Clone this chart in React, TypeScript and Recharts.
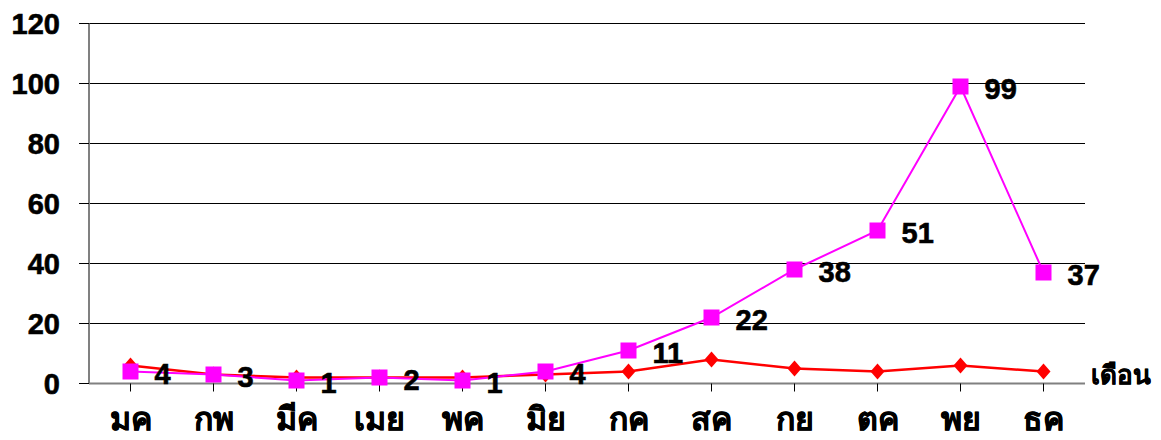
import React from 'react';
import { LineChart, Line, XAxis, YAxis, CartesianGrid, LabelList } from 'recharts';

const months = ['มค', 'กพ', 'มีค', 'เมย', 'พค', 'มิย', 'กค', 'สค', 'กย', 'ตค', 'พย', 'ธค'];
const seriesA = [6, 3, 2, 2, 2, 3, 4, 8, 5, 4, 6, 4];
const seriesB = [4, 3, 1, 2, 1, 4, 11, 22, 38, 51, 99, 37];
const yTicks = [0, 20, 40, 60, 80, 100, 120];
const axisTitle = 'เดือน';

const data = months.map((m, i) => ({ month: m, a: seriesA[i], b: seriesB[i] }));

const FONT = 'Arial, "Liberation Sans", sans-serif';

const Diamond = (props: any) => {
  const { cx, cy } = props;
  if (cx == null || cy == null) return null;
  return <path d={`M${cx},${cy - 8} L${cx + 7},${cy} L${cx},${cy + 8} L${cx - 7},${cy} Z`} fill="#FF0000" stroke="none" />;
};

const Square = (props: any) => {
  const { cx, cy } = props;
  if (cx == null || cy == null) return null;
  return <rect x={cx - 8} y={cy - 8} width={16} height={16} fill="#FF00FF" stroke="none" />;
};

const ValueLabel = (props: any) => {
  const { x, y, value } = props;
  return (
    <text x={x + 24} y={y + 2} textAnchor="start" dominantBaseline="central" fontFamily={FONT} fontWeight="bold" fontSize={29} fill="#000" stroke="#000" strokeWidth={0.6}>
      {value}
    </text>
  );
};

const MonthTitle = (props: any) => {
  const vb = props.viewBox || {};
  return (
    <text x={vb.x + vb.width + 6} y={vb.y - 9} textAnchor="start" dominantBaseline="central" fontFamily={FONT} fontWeight="bold" fontSize={26} fill="#000" stroke="#000" strokeWidth={0.4}>
      {axisTitle}
    </text>
  );
};

export default function App() {
  return (
    <LineChart width={1153} height={432} data={data} margin={{ top: 15.5, right: 76, left: 0, bottom: 0 }}>
      <CartesianGrid horizontal vertical={false} stroke="#000" strokeWidth={1} />
      <XAxis
        dataKey="month"
        height={56.5}
        padding={{ left: 41.5, right: 41.5 }}
        axisLine={{ stroke: '#808080', strokeWidth: 2 }}
        tickLine={{ stroke: '#000', strokeWidth: 1 }}
        tickSize={8}
        tickMargin={16}
        tick={{ fontFamily: FONT, fontWeight: 'bold', fontSize: 32, fill: '#000', stroke: '#000', strokeWidth: 0.5 }}
        interval={0}
        label={<MonthTitle />}
      />
      <YAxis
        domain={[0, 120]}
        ticks={yTicks}
        width={81}
        axisLine={{ stroke: '#808080', strokeWidth: 2 }}
        tickLine={{ stroke: '#000', strokeWidth: 1 }}
        tickSize={10}
        tickMargin={19}
        tick={{ fontFamily: FONT, fontWeight: 'bold', fontSize: 29, fill: '#000', stroke: '#000', strokeWidth: 0.6 }}
        interval={0}
      />
      <Line dataKey="a" stroke="#FF0000" strokeWidth={2.5} dot={<Diamond />} activeDot={false} isAnimationActive={false} />
      <Line dataKey="b" stroke="#FF00FF" strokeWidth={2} dot={<Square />} activeDot={false} isAnimationActive={false}>
        <LabelList dataKey="b" content={<ValueLabel />} />
      </Line>
    </LineChart>
  );
}
